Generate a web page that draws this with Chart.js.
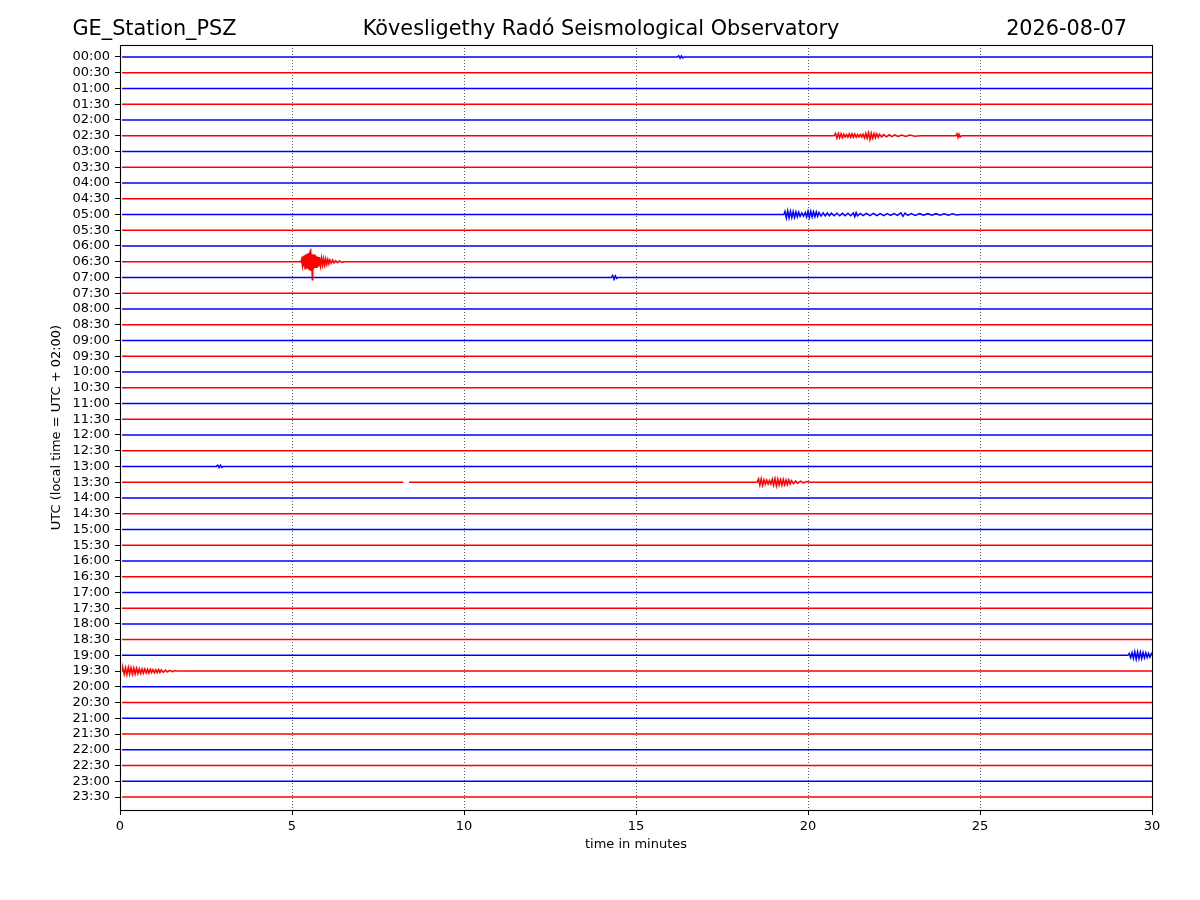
<!DOCTYPE html>
<html>
<head>
<meta charset="utf-8">
<title>GE_Station_PSZ helicorder</title>
<script src="https://cdn.jsdelivr.net/npm/chart.js@4.4.1/dist/chart.umd.min.js"></script>
<style>
  html, body { margin: 0; padding: 0; background: #fff; }
  #wrap { width: 1200px; height: 900px; }
</style>
</head>
<body>
<div id="wrap"><canvas id="heli" width="1200" height="900"></canvas></div>
<script>
// Header texts
const stationName = 'GE_Station_PSZ';
const observatory = 'Kövesligethy Radó Seismological Observatory';
const plotDate = '2026-08-07';

// One trace per half hour, top to bottom
const rowLabels = [
  '00:00', '00:30', '01:00', '01:30', '02:00', '02:30', '03:00', '03:30',
  '04:00', '04:30', '05:00', '05:30', '06:00', '06:30', '07:00', '07:30',
  '08:00', '08:30', '09:00', '09:30', '10:00', '10:30', '11:00', '11:30',
  '12:00', '12:30', '13:00', '13:30', '14:00', '14:30', '15:00', '15:30',
  '16:00', '16:30', '17:00', '17:30', '18:00', '18:30', '19:00', '19:30',
  '20:00', '20:30', '21:00', '21:30', '22:00', '22:30', '23:00', '23:30'
];
const minuteTicks = [0, 5, 10, 15, 20, 25, 30];
const traceStart = 0.06;
const traceEnd = 30;

// Signals: [minute, offset in trace spacings] (positive = downward)
const blip0000 = [[16.20, 0], [16.24, -0.08], [16.28, 0.08], [16.32, -0.07], [16.36, 0.06], [16.40, 0]];

const event0230 = [
  [20.76, 0], [20.80, -0.15], [20.84, 0.15], [20.88, -0.14], [20.92, 0.14], [20.96, -0.12],
  [21.00, 0.12], [21.04, -0.1], [21.08, 0.08], [21.12, -0.06], [21.16, 0.1], [21.20, -0.12],
  [21.24, 0.1], [21.28, -0.12], [21.32, 0.1], [21.36, -0.1], [21.40, 0.1], [21.44, -0.08],
  [21.48, 0.08], [21.52, -0.08], [21.56, 0.08], [21.60, -0.1], [21.64, 0.14], [21.68, -0.16],
  [21.72, 0.16], [21.76, -0.18], [21.80, 0.25], [21.84, -0.16], [21.88, 0.15], [21.92, -0.14],
  [21.96, 0.13], [22.00, -0.12], [22.04, 0.1], [22.08, -0.1], [22.14, 0.08], [22.20, -0.07],
  [22.28, 0.07], [22.36, -0.06], [22.44, 0.06], [22.52, -0.05], [22.62, 0.05], [22.72, -0.05],
  [22.84, 0.04], [22.96, -0.04], [23.10, 0.03], [23.26, 0],
  [24.30, 0], [24.33, -0.12], [24.36, 0.12], [24.39, -0.1], [24.42, 0.08], [24.46, 0]
];

const event0500 = [
  [19.30, 0], [19.33, -0.2], [19.37, 0.22], [19.41, -0.24], [19.45, 0.22], [19.49, -0.2],
  [19.53, 0.2], [19.57, -0.18], [19.61, 0.18], [19.65, -0.16], [19.69, 0.15], [19.73, -0.14],
  [19.77, 0.12], [19.82, -0.1], [19.87, 0.1], [19.92, -0.12], [19.96, 0.16], [20.00, -0.2],
  [20.04, 0.18], [20.08, -0.2], [20.12, 0.16], [20.16, -0.18], [20.20, 0.14], [20.24, -0.16],
  [20.28, 0.12], [20.32, -0.12], [20.38, 0.1], [20.44, -0.1], [20.50, 0.09], [20.56, -0.09],
  [20.62, 0.08], [20.68, -0.08], [20.76, 0.08], [20.84, -0.08], [20.92, 0.08], [21.00, -0.07],
  [21.08, 0.08], [21.16, -0.08], [21.24, 0.08], [21.32, -0.1], [21.36, 0.14], [21.40, -0.12],
  [21.44, 0.08], [21.52, -0.07], [21.60, 0.07], [21.70, -0.07], [21.80, 0.07], [21.90, -0.07],
  [22.00, 0.07], [22.10, -0.06], [22.20, 0.07], [22.30, -0.06], [22.40, 0.06], [22.50, -0.06],
  [22.60, 0.06], [22.70, -0.1], [22.76, 0.12], [22.82, -0.08], [22.90, 0.06], [23.00, -0.06],
  [23.12, 0.06], [23.24, -0.05], [23.36, 0.05], [23.48, -0.05], [23.60, 0.05], [23.72, -0.05],
  [23.84, 0.05], [23.96, -0.05], [24.08, 0.04], [24.20, -0.04], [24.32, 0.03], [24.44, 0]
];

const quake0630 = [
  [5.26, 0], [5.28, -0.15], [5.30, 0.2], [5.32, -0.35], [5.34, 0.3], [5.36, -0.4],
  [5.38, 0.45], [5.40, -0.45], [5.42, 0.4], [5.44, -0.5], [5.46, 0.45], [5.48, -0.55],
  [5.50, 0.5], [5.52, -0.6], [5.54, -0.7], [5.555, 0.55], [5.57, -0.5], [5.59, 1.14],
  [5.60, -0.45], [5.62, 0.5], [5.64, -0.45], [5.66, 0.4], [5.68, -0.4], [5.70, 0.35],
  [5.72, -0.35], [5.74, 0.35], [5.76, -0.3], [5.78, 0.3], [5.80, -0.3], [5.83, 0.25],
  [5.86, -0.25], [5.89, 0.22], [5.92, -0.2], [5.95, 0.2], [5.98, -0.18], [6.01, 0.16],
  [6.04, -0.15], [6.07, 0.13], [6.10, -0.12], [6.14, 0.1], [6.18, -0.1], [6.22, 0.08],
  [6.27, -0.07], [6.32, 0.06], [6.38, -0.05], [6.45, 0.04], [6.52, 0]
];

const blip0700 = [[14.28, 0], [14.32, -0.12], [14.36, 0.12], [14.40, -0.1], [14.44, 0.06], [14.48, 0]];

const blip1300 = [[2.80, 0], [2.84, -0.08], [2.88, 0.08], [2.92, -0.08], [2.96, 0.06], [3.00, 0]];

// 13:30 has a short data gap (null) and a local event
const event1330 = [
  [8.23, 0], [8.31, null], [8.40, 0],
  [18.52, 0], [18.56, -0.2], [18.60, 0.2], [18.64, -0.22], [18.68, 0.2], [18.72, -0.16],
  [18.76, 0.14], [18.80, -0.12], [18.84, 0.12], [18.88, -0.1], [18.92, 0.12], [18.96, -0.18],
  [19.00, 0.2], [19.04, -0.22], [19.08, 0.24], [19.12, -0.2], [19.16, 0.18], [19.20, -0.16],
  [19.24, 0.2], [19.28, -0.18], [19.32, 0.16], [19.36, -0.14], [19.40, 0.16], [19.44, -0.14],
  [19.48, 0.12], [19.52, -0.1], [19.58, 0.1], [19.64, -0.08], [19.70, 0.07], [19.78, -0.06],
  [19.86, 0.05], [19.96, -0.04], [20.06, 0]
];

const event1900 = [
  [29.30, 0], [29.34, -0.12], [29.38, 0.14], [29.42, -0.18], [29.46, 0.2], [29.50, -0.22],
  [29.54, 0.24], [29.58, -0.22], [29.62, 0.22], [29.66, -0.2], [29.70, 0.2], [29.74, -0.18],
  [29.78, 0.16], [29.82, -0.16], [29.86, 0.14], [29.90, -0.12], [29.94, 0.12], [29.98, -0.1]
];

const event1930 = [
  [0.08, -0.18], [0.12, 0.2], [0.16, -0.22], [0.20, 0.22], [0.24, -0.24], [0.28, 0.2],
  [0.32, -0.22], [0.36, 0.2], [0.40, -0.2], [0.44, 0.18], [0.48, -0.18], [0.52, 0.16],
  [0.56, -0.15], [0.60, 0.14], [0.64, -0.14], [0.68, 0.13], [0.72, -0.13], [0.76, 0.12],
  [0.80, -0.12], [0.84, 0.12], [0.88, -0.11], [0.92, 0.1], [0.96, -0.1], [1.00, 0.1],
  [1.04, -0.09], [1.08, 0.1], [1.12, -0.1], [1.16, 0.09], [1.20, -0.08], [1.26, 0.08],
  [1.32, -0.07], [1.38, 0.06], [1.44, -0.05], [1.52, 0.04], [1.60, -0.03], [1.68, 0]
];

// which trace each signal belongs to
const rowEvents = [
  [0, blip0000], [5, event0230], [10, event0500], [13, quake0630], [14, blip0700],
  [26, blip1300], [27, event1330], [38, event1900], [39, event1930]
];

// Build one dataset per trace
function buildTraces() {
  return rowLabels.map((label, row) => {
    let pts = [[traceStart, 0], [traceEnd, 0]];
    rowEvents.forEach(([r, sig]) => {
      if (r === row) pts = pts.concat(sig);
    });
    pts.sort((a, b) => a[0] - b[0]);
    return {
      label: label,
      data: pts.map(p => ({ x: p[0], y: p[1] === null ? null : row + p[1] })),
      borderColor: row % 2 === 0 ? '#0000ff' : '#ff0000',
      borderWidth: 1.5,
      pointRadius: 0,
      tension: 0,
      fill: false,
      spanGaps: false
    };
  });
}

// Titles, axis labels and the frame round the plot
const decorations = {
  id: 'decorations',
  afterDraw(chart) {
    const { ctx, chartArea: a } = chart;
    ctx.save();
    ctx.strokeStyle = '#000';
    ctx.lineWidth = 1.1;
    ctx.strokeRect(a.left + 0.5, a.top + 0.5, a.right - a.left, a.bottom - a.top);

    ctx.fillStyle = '#000';
    ctx.textBaseline = 'alphabetic';
    ctx.font = '20.8px "DejaVu Sans"';
    ctx.textAlign = 'left';
    ctx.fillText(stationName, 72.5, 35);
    ctx.textAlign = 'center';
    ctx.fillText(observatory, 601, 35);
    ctx.textAlign = 'right';
    ctx.fillText(plotDate, 1127, 35);

    ctx.font = '13px "DejaVu Sans"';
    ctx.textAlign = 'center';
    ctx.textBaseline = 'middle';
    ctx.fillText('time in minutes', (a.left + a.right) / 2, 845);
    ctx.translate(57, (a.top + a.bottom) / 2);
    ctx.rotate(-Math.PI / 2);
    ctx.fillText('UTC (local time = UTC + 02:00)', 0, 0);
    ctx.restore();
  }
};

Chart.defaults.font.family = '"DejaVu Sans", sans-serif';
Chart.defaults.color = '#000';

document.addEventListener('DOMContentLoaded', function () {
  const ctx = document.getElementById('heli').getContext('2d');
  new Chart(ctx, {
    type: 'line',
    data: { datasets: buildTraces() },
    options: {
      responsive: false,
      animation: false,
      devicePixelRatio: 1,
      layout: { padding: { top: 45, right: 48, bottom: 45, left: 0 } },
      plugins: { legend: { display: false }, tooltip: { enabled: false } },
      scales: {
        x: {
          type: 'linear',
          min: 0,
          max: 30,
          afterFit: s => { s.height = 45; },
          afterBuildTicks: s => { s.ticks = minuteTicks.map(v => ({ value: v })); },
          ticks: { font: { size: 13 }, padding: 4, maxRotation: 0, color: '#000' },
          grid: {
            color: c => (c.tick && (c.tick.value === 0 || c.tick.value === 30)) ? 'rgba(0,0,0,0)' : '#333',
            lineWidth: 0.8,
            tickLength: 5,
            tickColor: '#000',
            tickWidth: 1
          },
          border: { display: false, dash: [1, 2] }
        },
        y: {
          type: 'linear',
          reverse: true,
          min: -0.762,
          max: 47.82,
          afterFit: s => { s.width = 120; },
          afterBuildTicks: s => { s.ticks = rowLabels.map((l, i) => ({ value: i })); },
          ticks: {
            font: { size: 13 },
            padding: 5,
            autoSkip: false,
            color: '#000',
            callback: (v) => rowLabels[v]
          },
          grid: { drawOnChartArea: false, tickLength: 5, tickColor: '#000', tickWidth: 1 },
          border: { display: false }
        }
      }
    },
    plugins: [decorations]
  });
});
</script>
</body>
</html>
